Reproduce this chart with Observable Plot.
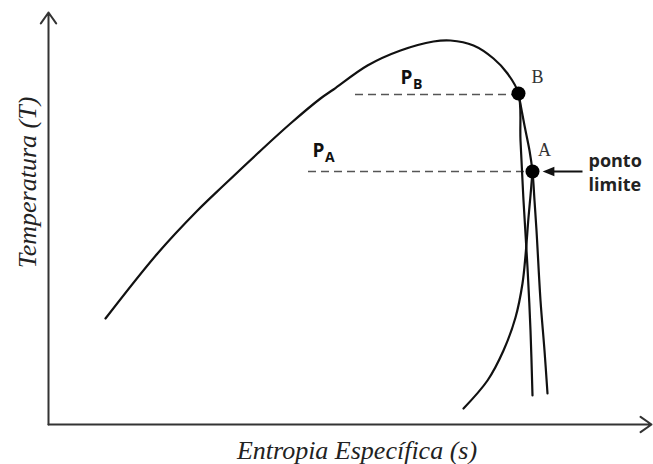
<!DOCTYPE html>
<html><head><meta charset="utf-8">
<script src="https://cdn.jsdelivr.net/npm/d3@7"></script>
<script src="https://cdn.jsdelivr.net/npm/@observablehq/plot@0.6"></script>
<style>body{margin:0;background:#fff}</style>
</head><body><div id="chart"></div>
<script>
// Saturation dome (continues down past B)
const domeS = [57,109,149,175,209,242,272,285,319,352,385,402,425,445,459,470,472,475,479,482,484];
const domeT = [106,171,214,239,271,301,326,335,359,374,383,384,379,366,351,331,284,224,157,94,29];
// Line from B through A
const lineBS = [470,476,481,484,486,488,492,496,499];
const lineBT = [331,299,274,253,224,194,124,74,31];
// Curve rising from bottom to A
const curveS = [415,439,455,467,474,477,480,482,484];
const curveT = [16,44,74,107,141,169,207,229,253];
// State points
const pointNames = ["B","A"];
const pointS = [470,484];
const pointT = [331,253];
// Pressure dashed lines
const pressureSub = ["B","A"];
const pressureStart = [307,260];
const pressureEnd = [470,484];
const pressureT = [330,253];
const pressureLabelS = [352,264];
const pressureLabelT = [347,274];
// Texts
const xLabel = "Entropia Específica (s)";
const yLabel = "Temperatura (T)";
const limitLabel = "ponto\nlimite";
const limitArrowS = [534,500];

const dome = domeS.map((s,i)=>({s, T:domeT[i]}));
const lineB = lineBS.map((s,i)=>({s, T:lineBT[i]}));
const curve = curveS.map((s,i)=>({s, T:curveT[i]}));
const points = pointNames.map((name,i)=>({name, s:pointS[i], T:pointT[i]}));
const pressures = pressureSub.map((sub,i)=>({sub, s1:pressureStart[i], s2:pressureEnd[i], T:pressureT[i], ls:pressureLabelS[i], lT:pressureLabelT[i]}));
const pA = points.find(d=>d.name==="A");
const pB = points.find(d=>d.name==="B");

const leftTriangle = {
  draw(ctx, size) {
    const s = Math.sqrt(size);
    ctx.moveTo(-s*0.55, 0);
    ctx.lineTo(s*0.55, -s*0.45);
    ctx.lineTo(s*0.55, s*0.45);
    ctx.closePath();
  }
};

const serif = "'Liberation Serif', 'Times New Roman', serif";
const sans = "'Open Sans', 'Liberation Sans', sans-serif";

const chart = Plot.plot({
  width: 653, height: 464,
  marginLeft: 48, marginRight: 2, marginTop: 12, marginBottom: 40,
  x: {domain: [0, 603], axis: null},
  y: {domain: [0, 412], axis: null},
  style: {background: "#fff", overflow: "visible"},
  marks: [
    Plot.arrow([{x1:0,y1:0,x2:603,y2:0},{x1:0,y1:0,x2:0,y2:412}], {
      x1:"x1", y1:"y1", x2:"x2", y2:"y2", stroke:"#333", strokeWidth:2, headLength:10, headAngle:70
    }),
    Plot.ruleY(pressures, {y:"T", x1:"s1", x2:"s2", stroke:"#555", strokeWidth:1.6, strokeDasharray:"8,5"}),
    Plot.line(dome, {x:"s", y:"T", curve:"catmull-rom", stroke:"#111", strokeWidth:2.2}),
    Plot.line(lineB, {x:"s", y:"T", curve:"catmull-rom", stroke:"#111", strokeWidth:2.2}),
    Plot.line(curve, {x:"s", y:"T", curve:"catmull-rom", stroke:"#111", strokeWidth:2.2}),
    Plot.dot(points, {x:"s", y:"T", r:7, fill:"#000"}),
    Plot.text([pB], {x:"s", y:"T", text:"name", dx:19, dy:-16, fontFamily:serif, fontSize:18, fill:"#333"}),
    Plot.text([pA], {x:"s", y:"T", text:"name", dx:12, dy:-21, fontFamily:serif, fontSize:18, fill:"#333"}),
    Plot.text(pressures, {x:"ls", y:"lT", text:()=>"P", textAnchor:"start", fontFamily:sans, fontWeight:"bold", fontSize:19, fill:"#111"}),
    Plot.text(pressures, {x:"ls", y:"lT", text:"sub", textAnchor:"start", dx:12.5, dy:7, fontFamily:sans, fontWeight:"bold", fontSize:14, fill:"#111"}),
    Plot.link([pA], {x1:()=>limitArrowS[0], x2:()=>limitArrowS[1], y1:"T", y2:"T", stroke:"#111", strokeWidth:2}),
    Plot.dot([pA], {x:()=>limitArrowS[1], y:"T", r:6, symbol:leftTriangle, fill:"#111", stroke:null}),
    Plot.text([pA], {x:"s", y:"T", text:()=>limitLabel, textAnchor:"start", lineAnchor:"middle", lineHeight:1.35, dx:56, dy:0, fontFamily:sans, fontWeight:"bold", fontSize:18, fill:"#222"}),
    Plot.text([xLabel], {frameAnchor:"bottom", textAnchor:"middle", dx:7, dy:34, fontFamily:serif, fontStyle:"italic", fontSize:26, fill:"#222"}),
    Plot.text([yLabel], {frameAnchor:"left", textAnchor:"middle", lineAnchor:"middle", rotate:-90, dx:-21, dy:-36, fontFamily:serif, fontStyle:"italic", fontSize:26, fill:"#222"})
  ]
});
document.getElementById("chart").appendChild(chart);
</script>
</body></html>
